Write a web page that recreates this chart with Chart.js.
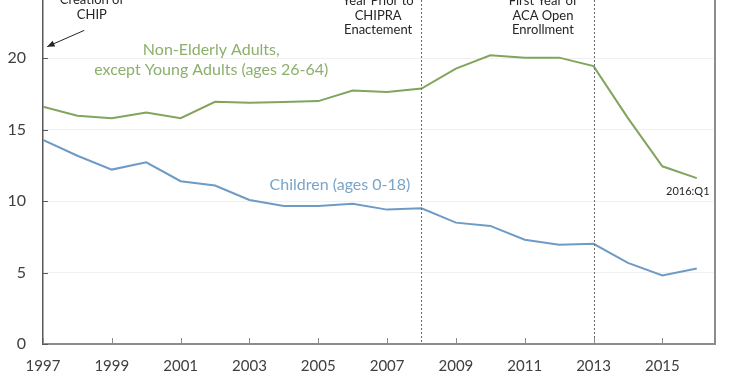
<!DOCTYPE html>
<html>
<head>
<meta charset="utf-8">
<script src="https://cdn.jsdelivr.net/npm/chart.js@4/dist/chart.umd.min.js"></script>
<style>
  html, body { margin: 0; padding: 0; background: #fff; overflow: hidden; width: 750px; height: 375px; }
  #wrap { position: absolute; left: 0; top: -40px; width: 750px; height: 415px; }
</style>
</head>
<body>
<div id="wrap"><canvas id="c" width="750" height="415"></canvas></div>
<script>
// ---- data ----
const years = [1997, 1998, 1999, 2000, 2001, 2002, 2003, 2004, 2005, 2006, 2007, 2008, 2009, 2010, 2011, 2012, 2013, 2014, 2015, 2016];
const adults = [16.6, 15.97, 15.79, 16.2, 15.79, 16.94, 16.88, 16.92, 16.99, 17.73, 17.62, 17.87, 19.26, 20.19, 20.03, 20.03, 19.44, 15.8, 12.43, 11.6];
const children = [14.28, 13.17, 12.2, 12.71, 11.39, 11.09, 10.07, 9.65, 9.65, 9.81, 9.4, 9.49, 8.49, 8.26, 7.29, 6.94, 7.01, 5.67, 4.79, 5.28];
const tickYears = [1997, 1999, 2001, 2003, 2005, 2007, 2009, 2011, 2013, 2015];
const yTicks = [0, 5, 10, 15, 20, 25];
const eventYears = [2008, 2013];
const seriesNames = ["Non-Elderly Adults,\nexcept Young Adults (ages 26-64)", "Children (ages 0-18)"];
const eventLabels = [["Year Prior to", "CHIPRA", "Enactement"], ["First Year of", "ACA Open", "Enrollment"]];
const chipLabel = ["Creation of", "CHIP"];
const lastLabel = "2016:Q1";

const FONT = "Lato";
const greenLine = "rgb(130,164,92)";
const greenText = "rgb(140,176,108)";
const blueLine = "rgb(110,155,198)";
const blueText = "rgb(122,164,200)";

const annot = {
  id: "annot",
  afterDraw(chart) {
    const ctx = chart.ctx;
    const xs = chart.scales.x, ys = chart.scales.y;
    const a = chart.chartArea;
    ctx.save();
    // right border
    ctx.strokeStyle = "#8c8c8c";
    ctx.lineWidth = 2;
    ctx.beginPath();
    ctx.moveTo(a.right, 0);
    ctx.lineTo(a.right, a.bottom);
    ctx.stroke();
    // event dashed lines
    ctx.strokeStyle = "#6a6a6a";
    ctx.lineWidth = 1;
    ctx.setLineDash([2, 2]);
    eventYears.forEach(y => {
      const px = Math.round(xs.getPixelForValue(y)) + 0.5;
      ctx.beginPath();
      ctx.moveTo(px, 0);
      ctx.lineTo(px, a.bottom);
      ctx.stroke();
    });
    ctx.setLineDash([]);
    // inward tick marks
    ctx.strokeStyle = "#595959";
    ctx.lineWidth = 1;
    yTicks.forEach(v => {
      const py = Math.round(ys.getPixelForValue(v)) + 0.5;
      ctx.beginPath();
      ctx.moveTo(a.left, py);
      ctx.lineTo(a.left + 5, py);
      ctx.stroke();
    });
    ctx.strokeStyle = "#8c8c8c";
    tickYears.forEach(v => {
      const px = Math.round(xs.getPixelForValue(v)) + 0.5;
      ctx.beginPath();
      ctx.moveTo(px, a.bottom);
      ctx.lineTo(px, a.bottom - 6);
      ctx.stroke();
    });
    // event texts
    ctx.fillStyle = "#262626";
    ctx.font = "13px " + FONT;
    ctx.textAlign = "center";
    ctx.textBaseline = "middle";
    const evX = [2006.74, 2011.53];
    eventLabels.forEach((lines, i) => {
      const cx = xs.getPixelForValue(evX[i]);
      lines.forEach((t, j) => {
        ctx.fillText(t, cx, ys.getPixelForValue(24.0) + j * 14.5);
      });
    });
    // CHIP text
    const chx = xs.getPixelForValue(1998.42);
    chipLabel.forEach((t, j) => {
      ctx.fillText(t, chx, ys.getPixelForValue(24.1) + j * 15);
    });
    // arrow
    const x1 = xs.getPixelForValue(1998.2), y1 = ys.getPixelForValue(21.94);
    const x2 = xs.getPixelForValue(1997.12), y2 = ys.getPixelForValue(20.8);
    ctx.strokeStyle = "#262626";
    ctx.lineWidth = 1;
    ctx.beginPath();
    ctx.moveTo(x1, y1);
    ctx.lineTo(x2, y2);
    ctx.stroke();
    const ang = Math.atan2(y2 - y1, x2 - x1);
    ctx.beginPath();
    ctx.moveTo(x2, y2);
    ctx.lineTo(x2 - 8 * Math.cos(ang - 0.4), y2 - 8 * Math.sin(ang - 0.4));
    ctx.lineTo(x2 - 8 * Math.cos(ang + 0.4), y2 - 8 * Math.sin(ang + 0.4));
    ctx.closePath();
    ctx.fill();
    // series labels
    ctx.font = "16px " + FONT;
    ctx.fillStyle = greenText;
    const gl = seriesNames[0].split("\n");
    const gx = xs.getPixelForValue(2001.89);
    ctx.fillText(gl[0], gx, ys.getPixelForValue(20.6));
    ctx.fillText(gl[1], gx, ys.getPixelForValue(19.15));
    ctx.fillStyle = blueText;
    ctx.fillText(seriesNames[1], xs.getPixelForValue(2005.63), ys.getPixelForValue(11.15));
    // last point label
    ctx.font = "11px " + FONT;
    ctx.fillStyle = "#262626";
    ctx.fillText(lastLabel, xs.getPixelForValue(2015.74), ys.getPixelForValue(10.64));
    ctx.restore();
  }
};

new Chart(document.getElementById("c"), {
  type: "line",
  data: {
    datasets: [
      { label: "Non-Elderly Adults", data: years.map((y, i) => ({ x: y, y: adults[i] })), borderColor: greenLine, borderWidth: 2, pointRadius: 0, tension: 0, fill: false },
      { label: "Children", data: years.map((y, i) => ({ x: y, y: children[i] })), borderColor: blueLine, borderWidth: 2, pointRadius: 0, tension: 0, fill: false }
    ]
  },
  options: {
    responsive: false,
    animation: false,
    layout: { padding: { top: 24, right: 35, left: 0, bottom: 0 } },
    plugins: { legend: { display: false }, tooltip: { enabled: false } },
    scales: {
      x: {
        type: "linear",
        min: 1997,
        max: 2016.53,
        afterBuildTicks: s => { s.ticks = tickYears.map(v => ({ value: v })); },
        afterFit: s => { s.height = 31; },
        ticks: { color: "#404040", font: { family: FONT, size: 15 }, padding: 13, maxRotation: 0, autoSkip: false, callback: v => String(v) },
        grid: { display: false, drawTicks: false },
        border: { display: true, color: "#8c8c8c", width: 2 }
      },
      y: {
        min: 0,
        max: 25,
        afterBuildTicks: s => { s.ticks = yTicks.map(v => ({ value: v })); },
        afterFit: s => { s.width = 43; },
        ticks: { color: "#404040", font: { family: FONT, size: 16 }, padding: 17 },
        grid: { color: "#f0f0f0", drawTicks: false },
        border: { display: true, color: "#595959", width: 1.5 }
      }
    }
  },
  plugins: [annot]
});
</script>
</body>
</html>
